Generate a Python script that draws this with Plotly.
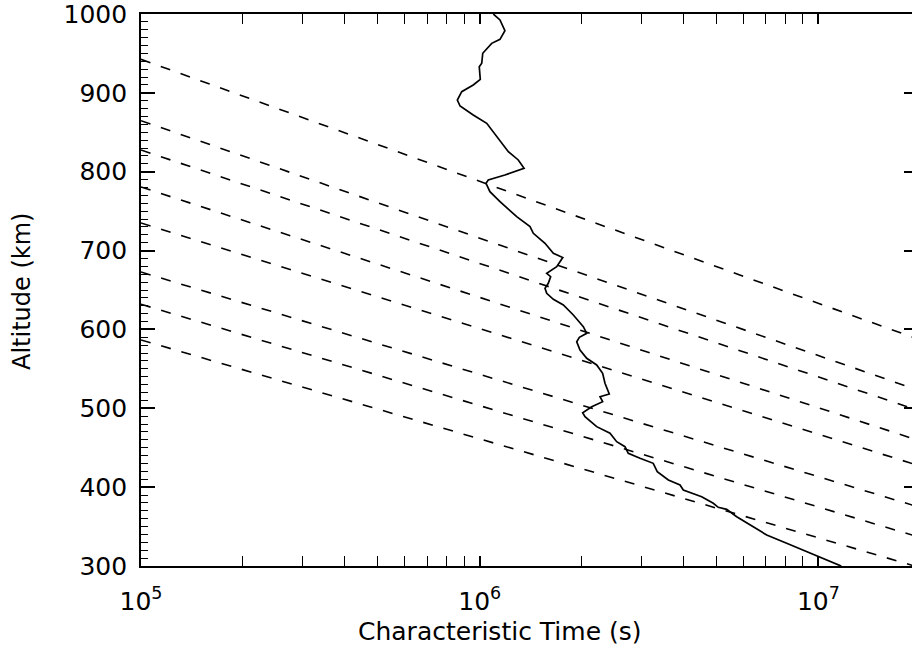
import plotly.graph_objects as go

# Solid profile: characteristic time (s) vs altitude (km)
profile_time = [1.097e6, 1.148e6, 1.187e6, 1.148e6, 1.085e6, 1.037e6, 1.021e6, 1.014e6, 0.997e6, 1.004e6,
                0.957e6, 0.885e6, 0.859e6, 0.875e6, 0.957e6, 1.049e6, 1.123e6, 1.215e6, 1.300e6, 1.352e6,
                1.187e6, 1.060e6, 1.044e6, 1.072e6, 1.148e6, 1.286e6, 1.408e6, 1.440e6, 1.559e6, 1.650e6,
                1.759e6, 1.688e6, 1.577e6, 1.620e6, 1.594e6, 1.559e6, 1.577e6, 1.650e6, 1.766e6, 1.890e6,
                2.023e6, 2.070e6, 1.969e6, 1.934e6, 1.978e6, 2.070e6, 2.215e6, 2.307e6, 2.344e6, 2.413e6,
                2.266e6, 2.307e6, 2.142e6, 2.014e6, 2.046e6, 2.215e6, 2.425e6, 2.538e6, 2.685e6, 2.746e6,
                2.974e6, 3.254e6, 3.344e6, 3.606e6, 3.904e6, 3.992e6, 4.523e6, 4.894e6, 5.063e6, 5.360e6,
                5.739e6, 6.426e6, 7.037e6, 8.060e6, 9.885e6, 1.158e7, 1.19e7]
profile_alt = [1000, 992.4, 978.8, 967.9, 962.8, 954.3, 950.2, 937.5, 933.2, 917.2,
               910.0, 901.5, 890.9, 883.3, 871.9, 861.4, 844.4, 825.4, 814.9, 804.3,
               795.8, 789.5, 785.3, 774.7, 762.0, 743.0, 730.3, 721.9, 709.2, 696.5,
               691.2, 679.5, 671.2, 666.9, 658.5, 652.2, 645.8, 638.2, 631.0, 618.3,
               603.5, 595.1, 590.0, 584.4, 573.9, 563.4, 554.9, 544.4, 531.7, 518.1,
               514.7, 508.4, 502.0, 494.4, 489.3, 476.7, 468.3, 457.6, 451.3, 442.9,
               436.6, 430.2, 419.6, 409.1, 402.7, 396.4, 387.9, 379.5, 374.4, 371.9,
               362.5, 349.8, 339.3, 328.8, 312.7, 300.6, 297.0]

# Dashed reference lines: altitude at t = 1e5 s and at t = 2e7 s
dash_times = [1e5, 2e7]
dash_alt_start = [942.5, 864.7, 827.5, 780.6, 735.0, 672.8, 631.9, 586.7]
dash_alt_end = [586.6, 522.0, 496.4, 458.5, 426.7, 374.2, 336.1, 297.9]

x_major = [1e5, 1e6, 1e7]
x_major_text = ["10<sup>5</sup>", "10<sup>6</sup>", "10<sup>7</sup>"]
x_minor = [m * 10 ** e for e in (5, 6, 7) for m in range(2, 10)]
y_major = [300, 400, 500, 600, 700, 800, 900, 1000]

FONT = "DejaVu Sans"

fig = go.Figure()
for a0, a1 in zip(dash_alt_start, dash_alt_end):
    fig.add_trace(go.Scatter(x=dash_times, y=[a0, a1], mode="lines",
                             line=dict(color="black", width=1.6, dash="10px,11px"),
                             showlegend=False, hoverinfo="skip"))
fig.add_trace(go.Scatter(x=profile_time, y=profile_alt, mode="lines",
                         line=dict(color="black", width=1.7), showlegend=False))
# dummy trace for the right-hand tick axis
fig.add_trace(go.Scatter(x=[1e6], y=[500], yaxis="y2", mode="markers",
                         marker=dict(opacity=0), showlegend=False, hoverinfo="skip"))

fig.update_layout(
    width=912, height=650,
    margin=dict(l=141, r=0, t=14, b=84, autoexpand=False),
    paper_bgcolor="white", plot_bgcolor="white",
    font=dict(family=FONT, color="black", size=24),
    xaxis=dict(type="log", range=[5, 7.2764], showgrid=False, zeroline=False, automargin=False,
               showline=True, linecolor="black", linewidth=1.7, mirror="allticks",
               ticks="inside", ticklen=10, tickwidth=1.5, tickcolor="black",
               tickmode="array", tickvals=x_major, ticktext=x_major_text,
               tickfont=dict(size=25, family=FONT), ticklabelstandoff=12,
               ticklabeloverflow="allow",
               minor=dict(ticks="inside", ticklen=5, tickwidth=1.3, tickcolor="black",
                          tickmode="array", tickvals=x_minor, showgrid=False)),
    yaxis=dict(range=[300, 1000], showgrid=False, zeroline=False, automargin=False,
               showline=True, linecolor="black", linewidth=1.7, mirror=False,
               ticks="inside", ticklen=14, tickwidth=1.5, tickcolor="black",
               tickmode="array", tickvals=y_major,
               tickfont=dict(size=25, family=FONT), ticklabelstandoff=7,
               ticklabeloverflow="allow",
               minor=dict(ticks="inside", ticklen=7, tickwidth=1.3, tickcolor="black",
                          dtick=10, tick0=300, showgrid=False)),
    yaxis2=dict(range=[300, 1000], overlaying="y", side="right", anchor="x", automargin=False,
                showgrid=False, zeroline=False, showline=False,
                ticks="inside", ticklen=8, tickwidth=1.5, tickcolor="black",
                tickmode="array", tickvals=y_major, showticklabels=False),
    annotations=[
        dict(text="Characteristic Time (s)", xref="paper", yref="paper",
             x=(500 - 141) / 771, y=(566 - 631) / 552, xanchor="center", yanchor="middle",
             showarrow=False, font=dict(size=25, family=FONT)),
        dict(text="Altitude (km)", xref="paper", yref="paper",
             x=(22 - 141) / 771, y=(566 - 292) / 552, xanchor="center", yanchor="middle",
             textangle=-90, showarrow=False, font=dict(size=24, family=FONT)),
    ],
)

fig.write_html("out.html", config={"displayModeBar": False},
               post_script="document.body.style.margin='0px';document.body.style.overflow='hidden';")
